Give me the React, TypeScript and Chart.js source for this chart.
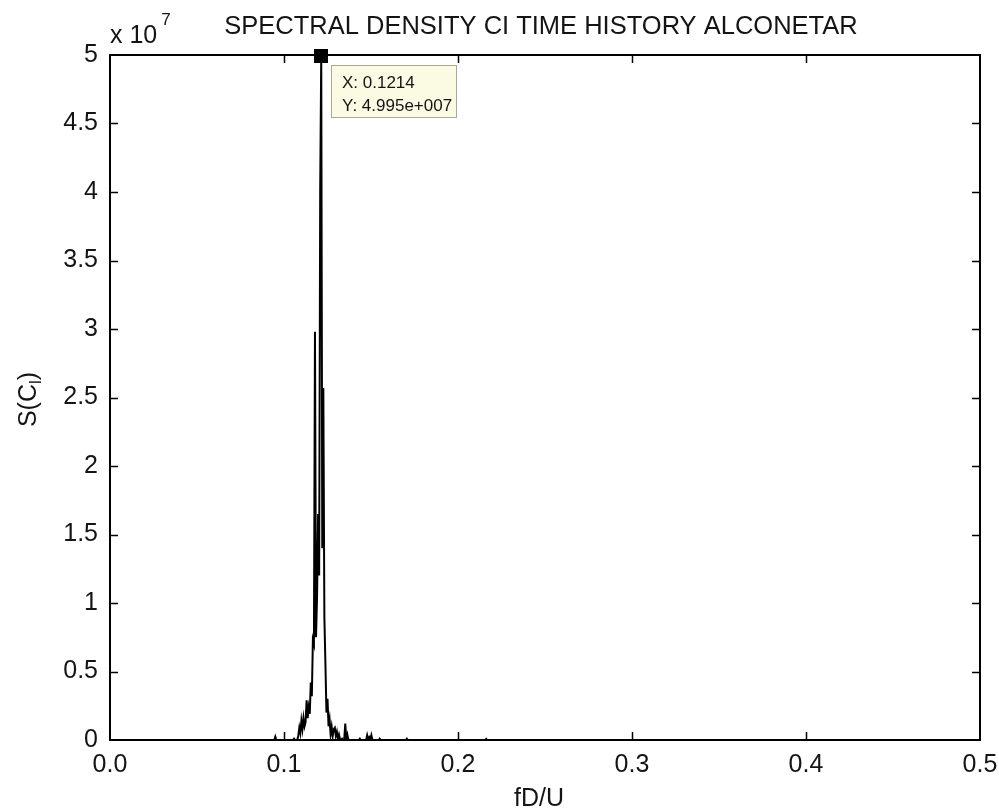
import { useEffect, useRef } from "react";
import { Chart, registerables } from "chart.js";

Chart.register(...registerables);

// Spectral density of the lift-coefficient time history (normalised frequency fD/U)
const freqs = [
  0, 0.0944, 0.095, 0.0956, 0.1052, 0.1058, 0.1064, 0.1076,
  0.1082, 0.1088, 0.1094, 0.11, 0.1106, 0.1112, 0.1118, 0.1124, 0.113, 0.1136,
  0.1142, 0.1148, 0.1154, 0.116, 0.1166, 0.1172, 0.1178, 0.1184, 0.119, 0.1196,
  0.1202, 0.1208, 0.1214, 0.122, 0.1226, 0.1232, 0.1238, 0.1244, 0.125, 0.1256,
  0.1262, 0.1268, 0.1274, 0.128, 0.1286, 0.1292, 0.1298, 0.1304, 0.131, 0.1316,
  0.1322, 0.1328, 0.1334, 0.134, 0.1346, 0.1352, 0.1358, 0.1364, 0.137,
  0.143, 0.1436, 0.1442,
  0.1472, 0.1478, 0.1484, 0.149, 0.1496, 0.1502, 0.1508,
  0.1544, 0.155, 0.1556,
  0.17, 0.1706, 0.1712,
  0.2156, 0.2162, 0.2168,
  0.5,
];

const sdValues = [
  0, 0, 2.5e5, 0, 0, 1.0e5, 0, 0,
  3.0e5, 9.0e5, 5.0e5, 1.4e6, 8.0e5, 1.6e6, 1.0e6, 1.3e6, 2.9e6, 1.6e6,
  2.4e6, 1.9e6, 4.2e6, 3.2e6, 7.3e6, 7.0e6, 2.98e7, 7.5e6, 1.05e7, 1.65e7,
  1.2e7, 4.01e7, 4.995e7, 1.4e7, 2.57e7, 9.0e6, 5.6e6, 2.0e6, 3.0e6, 1.0e6,
  1.5e6, 4.0e5, 9.5e5, 3.0e5, 8.0e5, 9.0e5, 3.0e5, 6.0e5, 1.0e5, 4.0e5,
  5.0e4, 0, 1.0e5, 0, 0, 1.2e6, 1.0e5, 4.0e5, 0,
  0, 1.0e5, 0,
  0, 3.5e5, 5.0e4, 2.0e5, 5.0e4, 3.5e5, 0,
  0, 1.0e5, 0,
  0, 1.0e5, 0,
  0, 8.0e4, 0,
  0,
];

const xTickValues = [0, 0.1, 0.2, 0.3, 0.4, 0.5];
const yTickValues = [0, 0.5e7, 1e7, 1.5e7, 2e7, 2.5e7, 3e7, 3.5e7, 4e7, 4.5e7, 5e7];
const yExponent = 7;

const chartTitle = "SPECTRAL DENSITY CI TIME HISTORY ALCONETAR";
const xAxisTitle = "fD/U";
const yAxisTitle = { main: "S(C", sub: "l", tail: ")" };

const FONT = "'Liberation Sans', Arial, Helvetica, sans-serif";
const INK = "#141414";

function matlabExp(v: number): string {
  const e = Math.floor(Math.log10(Math.abs(v)));
  const m = v / Math.pow(10, e);
  const sign = e < 0 ? "-" : "+";
  return `${m.toFixed(3)}e${sign}${String(Math.abs(e)).padStart(3, "0")}`;
}

const axesDecor = {
  id: "axesDecor",
  beforeDraw(chart: any) {
    const { ctx, width, height } = chart;
    ctx.save();
    ctx.fillStyle = "#ffffff";
    ctx.fillRect(0, 0, width, height);
    ctx.restore();
  },
  afterDraw(chart: any) {
    const { ctx, chartArea: a, scales } = chart;
    const xs = scales.x;
    const ys = scales.y;
    ctx.save();

    // inward tick marks on all four sides
    ctx.strokeStyle = "#000";
    ctx.lineWidth = 1.5;
    const tl = 8;
    ctx.beginPath();
    xTickValues.forEach((v) => {
      if (v <= xs.min || v >= xs.max) return;
      const px = Math.round(xs.getPixelForValue(v)) + 0.5;
      ctx.moveTo(px, a.bottom);
      ctx.lineTo(px, a.bottom - tl);
      ctx.moveTo(px, a.top);
      ctx.lineTo(px, a.top + tl);
    });
    yTickValues.forEach((v) => {
      if (v <= ys.min || v >= ys.max) return;
      const py = Math.round(ys.getPixelForValue(v)) + 0.5;
      ctx.moveTo(a.left, py);
      ctx.lineTo(a.left + tl, py);
      ctx.moveTo(a.right, py);
      ctx.lineTo(a.right - tl, py);
    });
    ctx.stroke();

    // axes box
    ctx.lineWidth = 2;
    ctx.strokeRect(a.left, a.top, a.right - a.left, a.bottom - a.top);

    ctx.fillStyle = INK;
    // title
    ctx.font = `25.5px ${FONT}`;
    ctx.textAlign = "center";
    ctx.textBaseline = "alphabetic";
    ctx.fillText(chartTitle, (a.left + a.right) / 2 - 4, 34);

    // exponent label
    ctx.textAlign = "left";
    ctx.font = `25px ${FONT}`;
    const base = "x 10";
    ctx.fillText(base, a.left, 43);
    const bw = ctx.measureText(base).width;
    ctx.font = `17px ${FONT}`;
    ctx.fillText(String(yExponent), a.left + bw + 4, 25);

    // x axis title
    ctx.font = `25px ${FONT}`;
    ctx.textAlign = "center";
    ctx.fillText(xAxisTitle, (a.left + a.right) / 2 - 6, 806);

    // y axis title, rotated, with subscript
    ctx.save();
    ctx.translate(36, (a.top + a.bottom) / 2 + 2);
    ctx.rotate(-Math.PI / 2);
    ctx.textAlign = "left";
    ctx.font = `25px ${FONT}`;
    const w1 = ctx.measureText(yAxisTitle.main).width;
    const w3 = ctx.measureText(yAxisTitle.tail).width;
    ctx.font = `17px ${FONT}`;
    const w2 = ctx.measureText(yAxisTitle.sub).width;
    const total = w1 + w2 + w3;
    let cx = -total / 2;
    ctx.font = `25px ${FONT}`;
    ctx.fillText(yAxisTitle.main, cx, 0);
    cx += w1;
    ctx.font = `17px ${FONT}`;
    ctx.fillText(yAxisTitle.sub, cx, 5);
    cx += w2;
    ctx.font = `25px ${FONT}`;
    ctx.fillText(yAxisTitle.tail, cx, 0);
    ctx.restore();

    // data tip on the spectral peak
    let iMax = 0;
    sdValues.forEach((v, i) => {
      if (v > sdValues[iMax]) iMax = i;
    });
    const fx = freqs[iMax];
    const fy = sdValues[iMax];
    const px = xs.getPixelForValue(fx);
    const py = ys.getPixelForValue(fy);

    const bx = Math.round(px) + 10;
    const by = Math.round(py) + 9;
    ctx.fillStyle = "#fbfbe4";
    ctx.fillRect(bx, by, 125, 52);
    ctx.strokeStyle = "#a8a898";
    ctx.lineWidth = 1;
    ctx.strokeRect(bx + 0.5, by + 0.5, 125, 52);

    ctx.fillStyle = "#000";
    ctx.fillRect(Math.round(px) - 7, Math.round(py) - 7, 14, 14);

    ctx.fillStyle = INK;
    ctx.font = `17px ${FONT}`;
    ctx.textAlign = "left";
    ctx.textBaseline = "middle";
    ctx.fillText(`X: ${fx.toFixed(4)}`, bx + 11, by + 18);
    ctx.fillText(`Y: ${matlabExp(fy)}`, bx + 11, by + 41);

    ctx.restore();
  },
};

export default function App() {
  const canvasRef = useRef<HTMLCanvasElement | null>(null);

  useEffect(() => {
    document.body.style.margin = "0";
    const canvas = canvasRef.current;
    if (!canvas) return;
    const points = freqs.map((f, i) => ({ x: f, y: sdValues[i] }));
    const chart = new Chart(canvas, {
      type: "line",
      data: {
        datasets: [
          {
            data: points,
            borderColor: "#000",
            borderWidth: 2,
            pointRadius: 0,
            tension: 0,
            fill: false,
          },
        ],
      },
      options: {
        animation: false,
        responsive: false,
        devicePixelRatio: 1,
        events: [],
        layout: { padding: { top: 55, right: 19, left: 0, bottom: 0 } },
        plugins: {
          legend: { display: false },
          tooltip: { enabled: false },
          title: { display: false },
        },
        scales: {
          x: {
            type: "linear",
            min: 0,
            max: 0.5,
            afterBuildTicks: (s: any) => {
              s.ticks = xTickValues.map((v) => ({ value: v }));
            },
            ticks: {
              callback: (v: any) => Number(v).toFixed(1),
              font: { family: FONT, size: 25 },
              color: INK,
              padding: 2,
              maxRotation: 0,
              autoSkip: false,
            },
            grid: { display: false },
            border: { display: false },
            afterFit: (s: any) => {
              s.height = 71;
              s.paddingLeft = 0;
              s.paddingRight = 0;
            },
          },
          y: {
            type: "linear",
            min: 0,
            max: 5e7,
            afterBuildTicks: (s: any) => {
              s.ticks = yTickValues.map((v) => ({ value: v }));
            },
            ticks: {
              callback: (v: any) => String(Math.round(Number(v) / 1e6) / 10),
              font: { family: FONT, size: 25 },
              color: INK,
              padding: 4,
              autoSkip: false,
            },
            grid: { display: false },
            border: { display: false },
            afterFit: (s: any) => {
              s.width = 110;
              s.paddingTop = 0;
              s.paddingBottom = 0;
            },
          },
        },
      },
      plugins: [axesDecor],
    });
    return () => chart.destroy();
  }, []);

  return (
    <div style={{ position: "fixed", left: 0, top: 0, width: 999, height: 811, background: "#fff" }}>
      <canvas ref={canvasRef} width={999} height={811} style={{ display: "block" }} />
    </div>
  );
}
